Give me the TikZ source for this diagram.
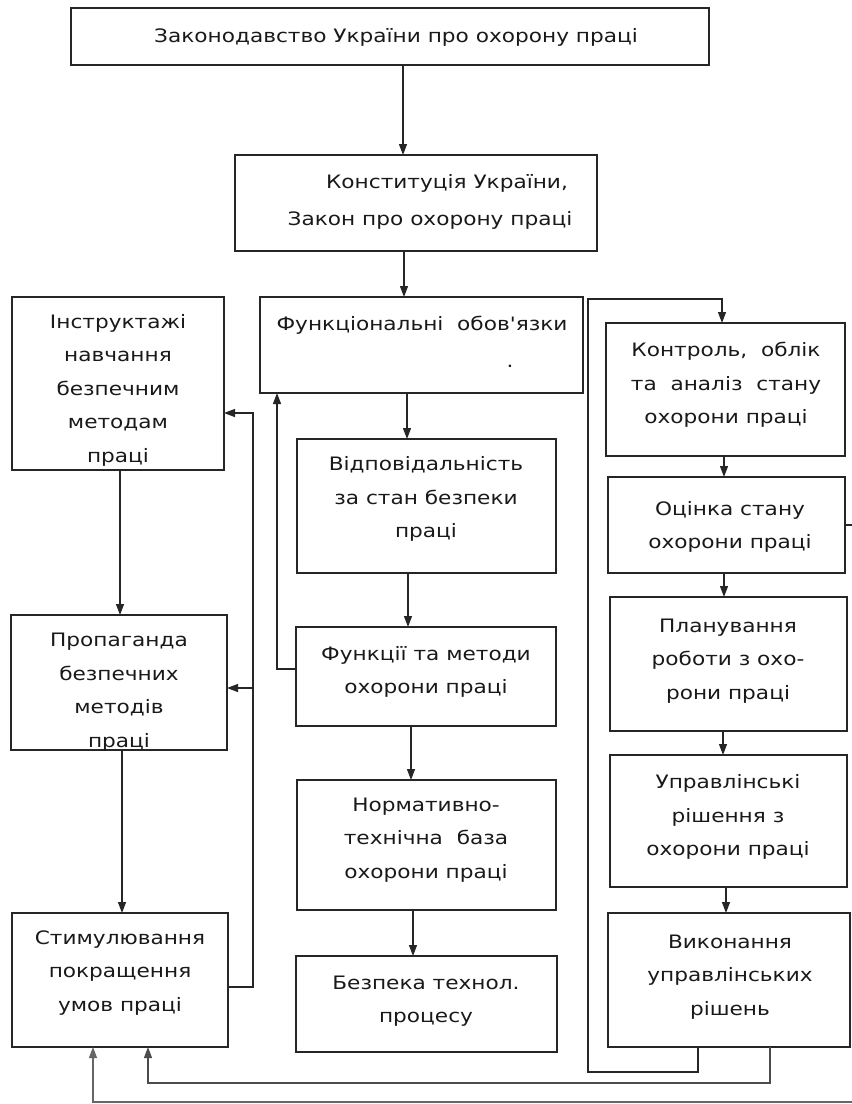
\documentclass[tikz,border=0pt]{standalone}
\usepackage{fontspec}
\newfontfamily\dv{DejaVu Sans}[FakeStretch=1.17]
\usetikzlibrary{arrows.meta}
\newcommand\mkbox[5]{\node[box, minimum width={(#4-#2)*1pt}, minimum height={(#5-#3)*1pt}] (#1) at (#2,#3) {};}
\begin{document}
\begin{tikzpicture}[x=1pt,y=-1pt,
  box/.style={draw=black!85, line width=1.5pt, anchor=north west, inner sep=0pt, outer sep=0pt},
  txt/.style={font=\dv\fontsize{18.5}{33.5}\selectfont, align=center, inner sep=0pt, text=black!90},
  conn/.style={draw=black!85, line width=1.2pt},
  arr/.style={conn, -{Triangle[length=11pt,width=8pt]}}]
\useasboundingbox[fill=white] (0,0) rectangle (852,1104);
% boxes
\mkbox{top}{71}{8}{709}{65}
\mkbox{konst}{235}{155}{597}{251}
\mkbox{funk}{260}{297}{583}{393}
\mkbox{instr}{12}{297}{224}{470}
\mkbox{vidp}{297}{439}{556}{573}
\mkbox{funkm}{296}{627}{556}{726}
\mkbox{norm}{297}{780}{556}{910}
\mkbox{bezp}{296}{956}{557}{1052}
\mkbox{prop}{11}{615}{227}{750}
\mkbox{stym}{12}{913}{228}{1047}
\mkbox{kontr}{606}{323}{845}{456}
\mkbox{ocin}{608}{477}{845}{573}
\mkbox{plan}{610}{597}{847}{731}
\mkbox{upr}{610}{755}{847}{887}
\mkbox{vyk}{608}{913}{850}{1047}
% texts
\node[txt] (t-top) at (396,37) {Законодавство України про охорону праці};
\node[txt] (t-konst1) at (447,183) {Конституція України,};
\node[txt] (t-konst2) at (430,220) {Закон про охорону праці};
\node[txt] (t-funk) at (422,325) {Функціональні\ \ обов'язки};
\node[txt] (t-dot) at (510,366) {.};
\node[txt] (t-instr) at (118,390) {Інструктажі\\навчання\\безпечним\\методам\\праці};
\node[txt] (t-vidp) at (426,499) {Відповідальність\\за стан безпеки\\праці};
\node[txt] (t-funkm) at (426,672) {Функції та методи\\охорони праці};
\node[txt] (t-norm) at (426,840) {Нормативно-\\технічна\ \ база\\охорони праці};
\node[txt] (t-bezp) at (426,1001) {Безпека технол.\\процесу};
\node[txt] (t-prop) at (119,692) {Пропаганда\\безпечних\\методів\\праці};
\node[txt] (t-stym) at (120,973) {Стимулювання\\покращення\\умов праці};
\node[txt] (t-kontr) at (726,385) {Контроль,\ \ облік\\та\ \ аналіз\ \ стану\\охорони праці};
\node[txt] (t-ocin) at (730,527) {Оцінка стану\\охорони праці};
\node[txt] (t-plan) at (728,661) {Планування\\роботи з охо-\\рони праці};
\node[txt] (t-upr) at (728,817) {Управлінські\\рішення з\\охорони праці};
\node[txt] (t-vyk) at (730,977) {Виконання\\управлінських\\рішень};
% central chain
\draw[arr] (403,0 |- top.south) -- (403,0 |- konst.north);
\draw[arr] (404,0 |- konst.south) -- (404,0 |- funk.north);
\draw[arr] (407,0 |- funk.south) -- (407,0 |- vidp.north);
\draw[arr] (408,0 |- vidp.south) -- (408,0 |- funkm.north);
\draw[arr] (411,0 |- funkm.south) -- (411,0 |- norm.north);
\draw[arr] (413,0 |- norm.south) -- (413,0 |- bezp.north);
\draw[arr] (funkm.west |- 0,669) -- (277,669) -- (277,0 |- funk.south);
% left column
\draw[arr] (120,0 |- instr.south) -- (120,0 |- prop.north);
\draw[arr] (122,0 |- prop.south) -- (122,0 |- stym.north);
\draw[arr] (stym.east |- 0,987) -- (253,987) -- (253,413) -- (instr.east |- 0,413);
\draw[arr] (253,688) -- (prop.east |- 0,688);
% right column
\draw[arr] (698,0 |- vyk.south) -- (698,1072) -- (588,1072) -- (588,299) -- (722,299) -- (722,0 |- kontr.north);
\draw[arr] (724,0 |- kontr.south) -- (724,0 |- ocin.north);
\draw[arr] (724,0 |- ocin.south) -- (724,0 |- plan.north);
\draw[arr] (723,0 |- plan.south) -- (723,0 |- upr.north);
\draw[arr] (726,0 |- upr.south) -- (726,0 |- vyk.north);
\coordinate (edgeA) at (852,525);
\draw[conn] (ocin.east |- edgeA) -- (edgeA);
% bottom returns
\draw[arr, draw=black!70] (770,0 |- vyk.south) -- (770,1083) -- (148,1083) -- (148,0 |- stym.south);
\coordinate (edgeB) at (852,1102);
\draw[arr, draw=black!60] (edgeB) -- (93,1102) -- (93,0 |- stym.south);
\end{tikzpicture}
\end{document}
